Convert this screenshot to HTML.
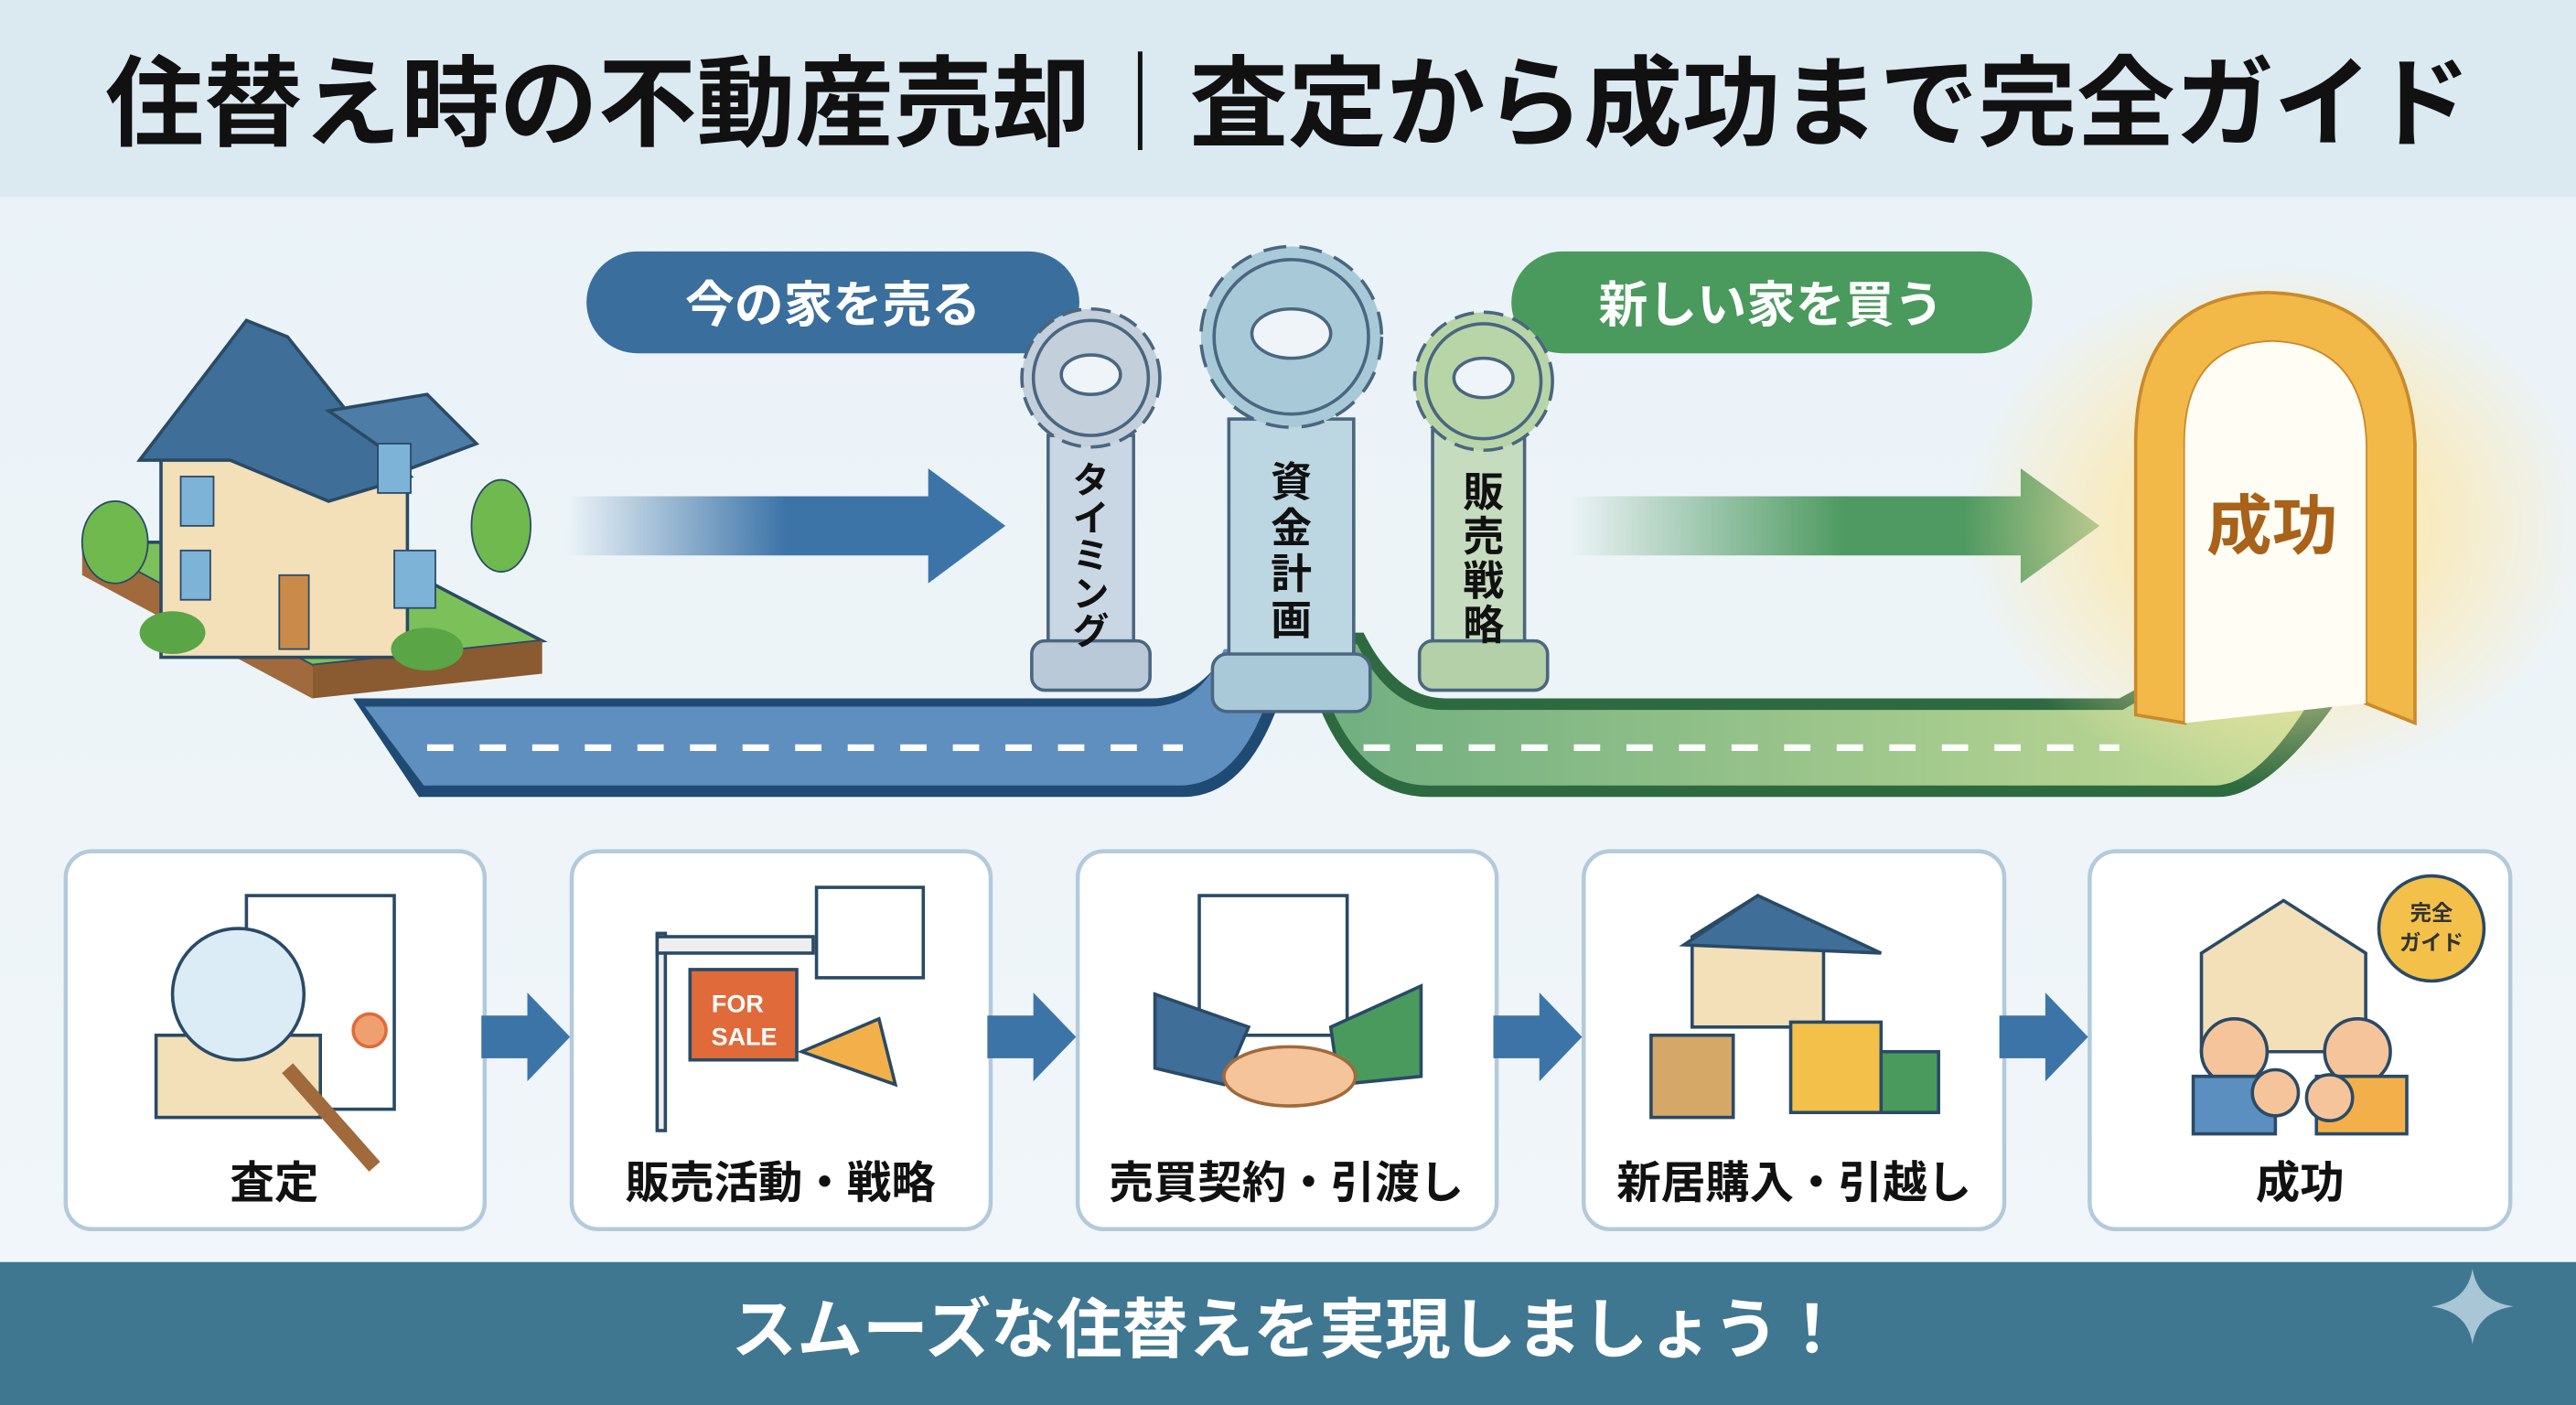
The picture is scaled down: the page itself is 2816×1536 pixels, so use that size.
<!DOCTYPE html>
<html><head><meta charset="utf-8"><style>
html,body{margin:0;padding:0;width:2816px;height:1536px;overflow:hidden;background:#eef4f8}
svg{display:block}
text{font-family:"Liberation Sans","Noto Sans CJK JP",sans-serif;font-weight:bold}
</style></head><body>
<svg width="2816" height="1536" viewBox="0 0 1568 855" preserveAspectRatio="none" xmlns="http://www.w3.org/2000/svg">
<defs>
<linearGradient id="bg" x1="0" y1="0" x2="0" y2="1"><stop offset="0" stop-color="#e9f2f7"/><stop offset="1" stop-color="#f1f6f9"/></linearGradient>
<linearGradient id="ba" x1="0" x2="1"><stop offset="0" stop-color="#3d74a8" stop-opacity="0"/><stop offset="0.6" stop-color="#3d74a8"/></linearGradient>
<linearGradient id="ga" x1="0" x2="1"><stop offset="0" stop-color="#4f9a62" stop-opacity="0"/><stop offset="0.6" stop-color="#4f9a62"/></linearGradient>
<radialGradient id="glow"><stop offset="0" stop-color="#fff6d0"/><stop offset="0.5" stop-color="#fde7a8" stop-opacity="0.7"/><stop offset="1" stop-color="#fde7a8" stop-opacity="0"/></radialGradient>
<linearGradient id="gr" x1="0" x2="1"><stop offset="0" stop-color="#6fae80"/><stop offset="1" stop-color="#c6dc96"/></linearGradient>
</defs>
<rect width="1568" height="855" fill="url(#bg)"/>
<rect width="1568" height="120" fill="#dbe9f1"/>
<text x="784" y="84" font-size="60" text-anchor="middle" fill="#111">住替え時の不動産売却｜査定から成功まで完全ガイド</text>
<rect x="357" y="153" width="300" height="62" rx="31" fill="#3a6e9c"/>
<text x="507" y="196" font-size="30" text-anchor="middle" fill="#fff">今の家を売る</text>
<rect x="920" y="153" width="317" height="62" rx="31" fill="#4a9a5e"/>
<text x="1078" y="196" font-size="30" text-anchor="middle" fill="#fff">新しい家を買う</text>
<rect x="345" y="302" width="222" height="36" fill="url(#ba)"/>
<polygon points="565,285 612,320 565,355" fill="#3d74a8"/>
<rect x="955" y="302" width="278" height="36" fill="url(#ga)"/>
<polygon points="1230,285 1278,320 1230,355" fill="#4f9a62"/>
<path d="M215 425 L700 425 Q735 425 752 385 L790 385 Q770 485 720 485 L255 485 Z" fill="#1f4a73"/>
<path d="M222 430 L700 430 Q730 430 745 395 L780 395 Q762 478 718 478 L258 478 Z" fill="#5f8fbe"/>
<path d="M260 455 L720 455" stroke="#fff" stroke-width="4" stroke-dasharray="16 16"/>
<path d="M790 385 L830 385 Q850 425 880 425 L1290 425 L1345 395 L1430 395 L1420 430 Q1380 485 1350 485 L870 485 Q810 485 790 385 Z" fill="#2e6a3f"/>
<path d="M798 392 L826 392 Q846 432 878 432 L1292 432 L1345 402 L1420 402 Q1380 478 1348 478 L870 478 Q818 478 798 392 Z" fill="url(#gr)"/>
<path d="M830 455 L1290 455" stroke="#fff" stroke-width="4" stroke-dasharray="16 16"/>
<polygon points="50,330 190,405 330,390 215,330" fill="#7cc05a" stroke="#2a4a66" stroke-width="2"/>
<polygon points="50,330 50,350 190,425 190,405" fill="#a06a3c"/>
<polygon points="190,405 190,425 330,410 330,390" fill="#8a5a30"/>
<rect x="98" y="270" width="150" height="130" fill="#f3dfb8" stroke="#2a4a66" stroke-width="2"/>
<polygon points="85,280 150,195 175,205 215,255 250,290 200,305 140,280" fill="#3f6f99" stroke="#2a4a66" stroke-width="2"/>
<polygon points="200,250 260,240 290,270 250,285" fill="#4d7ca6" stroke="#2a4a66" stroke-width="2"/>
<rect x="110" y="290" width="20" height="30" fill="#7eb3d8" stroke="#2a4a66"/>
<rect x="230" y="270" width="20" height="30" fill="#7eb3d8" stroke="#2a4a66"/>
<rect x="110" y="335" width="18" height="30" fill="#7eb3d8" stroke="#2a4a66"/>
<rect x="240" y="335" width="25" height="35" fill="#7eb3d8" stroke="#2a4a66"/>
<rect x="170" y="350" width="18" height="45" fill="#c98a4a" stroke="#2a4a66"/>
<ellipse cx="70" cy="330" rx="20" ry="25" fill="#6fb94f" stroke="#2a4a66"/>
<ellipse cx="305" cy="320" rx="18" ry="28" fill="#6fb94f" stroke="#2a4a66"/>
<ellipse cx="105" cy="385" rx="20" ry="13" fill="#5aa545"/>
<ellipse cx="260" cy="395" rx="22" ry="13" fill="#5aa545"/>
<g stroke="#4a6680" stroke-width="2">
<rect x="638" y="265" width="52" height="130" fill="#c9d6e3"/>
<rect x="628" y="390" width="72" height="30" rx="8" fill="#b9c9d8"/>
<circle cx="664" cy="230" r="42" fill="#c3cfdb" stroke-dasharray="12 6"/>
<circle cx="664" cy="230" r="35" fill="#c3cfdb"/>
<ellipse cx="664" cy="228" rx="18" ry="12" fill="#eef4f8"/>
<rect x="748" y="255" width="76" height="150" fill="#bcd6e2"/>
<rect x="738" y="398" width="96" height="35" rx="9" fill="#a9c8d8"/>
<circle cx="786" cy="205" r="55" fill="#a8cad8" stroke-dasharray="14 8"/>
<circle cx="786" cy="205" r="47" fill="#a8cad8"/>
<ellipse cx="786" cy="203" rx="24" ry="15" fill="#eef4f8"/>
<rect x="872" y="262" width="56" height="133" fill="#c6dcbf"/>
<rect x="864" y="390" width="78" height="30" rx="8" fill="#b3d0a8"/>
<circle cx="903" cy="232" r="42" fill="#b8d5a8" stroke-dasharray="12 6"/>
<circle cx="903" cy="232" r="35" fill="#b8d5a8"/>
<ellipse cx="903" cy="230" rx="18" ry="12" fill="#eef4f8"/>
</g>
<g font-size="22" fill="#111" text-anchor="middle">
<text x="664" y="300">タ</text><text x="664" y="323">イ</text><text x="664" y="346">ミ</text><text x="664" y="369">ン</text><text x="664" y="392">グ</text>
</g>
<g font-size="25" fill="#111" text-anchor="middle">
<text x="786" y="302">資</text><text x="786" y="330">金</text><text x="786" y="358">計</text><text x="786" y="386">画</text>
<text x="903" y="308">販</text><text x="903" y="335">売</text><text x="903" y="362">戦</text><text x="903" y="389">略</text>
</g>
<ellipse cx="1385" cy="320" rx="190" ry="160" fill="url(#glow)"/>
<path d="M1300 435 L1300 270 Q1300 180 1380 178 Q1465 180 1470 270 L1470 440 L1440 428 L1440 270 Q1438 210 1383 208 Q1330 210 1330 270 L1330 440 Z" fill="#f2b848" stroke="#c98a2a" stroke-width="2"/>
<path d="M1330 440 L1330 270 Q1330 210 1383 208 Q1438 210 1440 270 L1440 428 Z" fill="#fffdf4"/>
<text x="1383" y="334" font-size="40" text-anchor="middle" fill="#a8621a">成功</text>
<g fill="#fff" stroke="#b3cadb" stroke-width="2.5">
<rect x="40" y="518" width="255" height="230" rx="16"/>
<rect x="348" y="518" width="255" height="230" rx="16"/>
<rect x="656" y="518" width="255" height="230" rx="16"/>
<rect x="964" y="518" width="256" height="230" rx="16"/>
<rect x="1272" y="518" width="256" height="230" rx="16"/>
</g>
<g fill="#3d74a8">
<rect x="293" y="618" width="30" height="26"/><polygon points="321,604 347,631 321,658"/>
<rect x="601" y="618" width="30" height="26"/><polygon points="629,604 655,631 629,658"/>
<rect x="909" y="618" width="30" height="26"/><polygon points="937,604 963,631 937,658"/>
<rect x="1217" y="618" width="30" height="26"/><polygon points="1245,604 1271,631 1245,658"/>
</g>
<g stroke="#2a4a66" stroke-width="2">
<rect x="150" y="545" width="90" height="130" fill="#fff"/>
<rect x="95" y="630" width="100" height="50" fill="#f3dfb8"/>
<line x1="175" y1="650" x2="228" y2="710" stroke="#a06a3c" stroke-width="9"/>
<circle cx="145" cy="605" r="40" fill="#dcecf6"/>
<circle cx="225" cy="627" r="10" fill="#f0a070" stroke="#e06a3a"/>
<rect x="400" y="568" width="5" height="120" fill="#eee"/>
<rect x="400" y="570" width="95" height="10" fill="#eee"/>
<rect x="420" y="590" width="65" height="55" fill="#e06a3a"/>
<rect x="497" y="540" width="65" height="55" fill="#fff"/>
<polygon points="488,640 535,620 545,660" fill="#f3b04a"/>
<rect x="730" y="545" width="90" height="85" fill="#fff"/>
<polygon points="703,605 760,625 745,660 703,650" fill="#3f6f99"/>
<polygon points="865,600 810,625 815,660 865,655" fill="#4a9a5e"/>
<ellipse cx="785" cy="655" rx="40" ry="18" fill="#f6c49a" stroke="#a06a3c"/>
<polygon points="1030,570 1070,545 1110,570 1110,625 1030,625" fill="#f3dfb8"/>
<polygon points="1025,575 1070,545 1145,580" fill="#3f6f99"/>
<rect x="1005" y="630" width="50" height="50" fill="#d6a868"/>
<rect x="1090" y="622" width="55" height="55" fill="#f3c04a"/>
<rect x="1145" y="640" width="35" height="37" fill="#4a9a5e"/>
<polygon points="1340,580 1390,548 1440,580 1440,640 1340,640" fill="#f3dfb8"/>
<circle cx="1360" cy="640" r="20" fill="#f6c49a"/><rect x="1335" y="655" width="50" height="35" fill="#5a8fc0"/>
<circle cx="1435" cy="640" r="20" fill="#f6c49a"/><rect x="1410" y="655" width="55" height="35" fill="#f3b04a"/>
<circle cx="1385" cy="665" r="14" fill="#f6c49a"/><circle cx="1418" cy="668" r="14" fill="#f6c49a"/>
<circle cx="1480" cy="565" r="32" fill="#f3c04a"/>
</g>
<text x="449" y="616" font-size="15" text-anchor="middle" fill="#fff">FOR</text>
<text x="453" y="636" font-size="15" text-anchor="middle" fill="#fff">SALE</text>
<text x="1480" y="560" font-size="13" text-anchor="middle" fill="#333">完全</text>
<text x="1480" y="578" font-size="13" text-anchor="middle" fill="#333">ガイド</text>
<g font-size="27" text-anchor="middle" fill="#111">
<text x="167" y="729">査定</text>
<text x="475" y="729">販売活動・戦略</text>
<text x="783" y="729">売買契約・引渡し</text>
<text x="1092" y="729">新居購入・引越し</text>
<text x="1400" y="729">成功</text>
</g>
<rect x="0" y="768" width="1568" height="87" fill="#3f7791"/>
<text x="784" y="823" font-size="40" text-anchor="middle" fill="#fff">スムーズな住替えを実現しましょう！</text>
<path d="M1505 772 Q1508 792 1530 795 Q1508 798 1505 818 Q1502 798 1480 795 Q1502 792 1505 772 Z" fill="#a9c6d6"/>
</svg>
</body></html>
